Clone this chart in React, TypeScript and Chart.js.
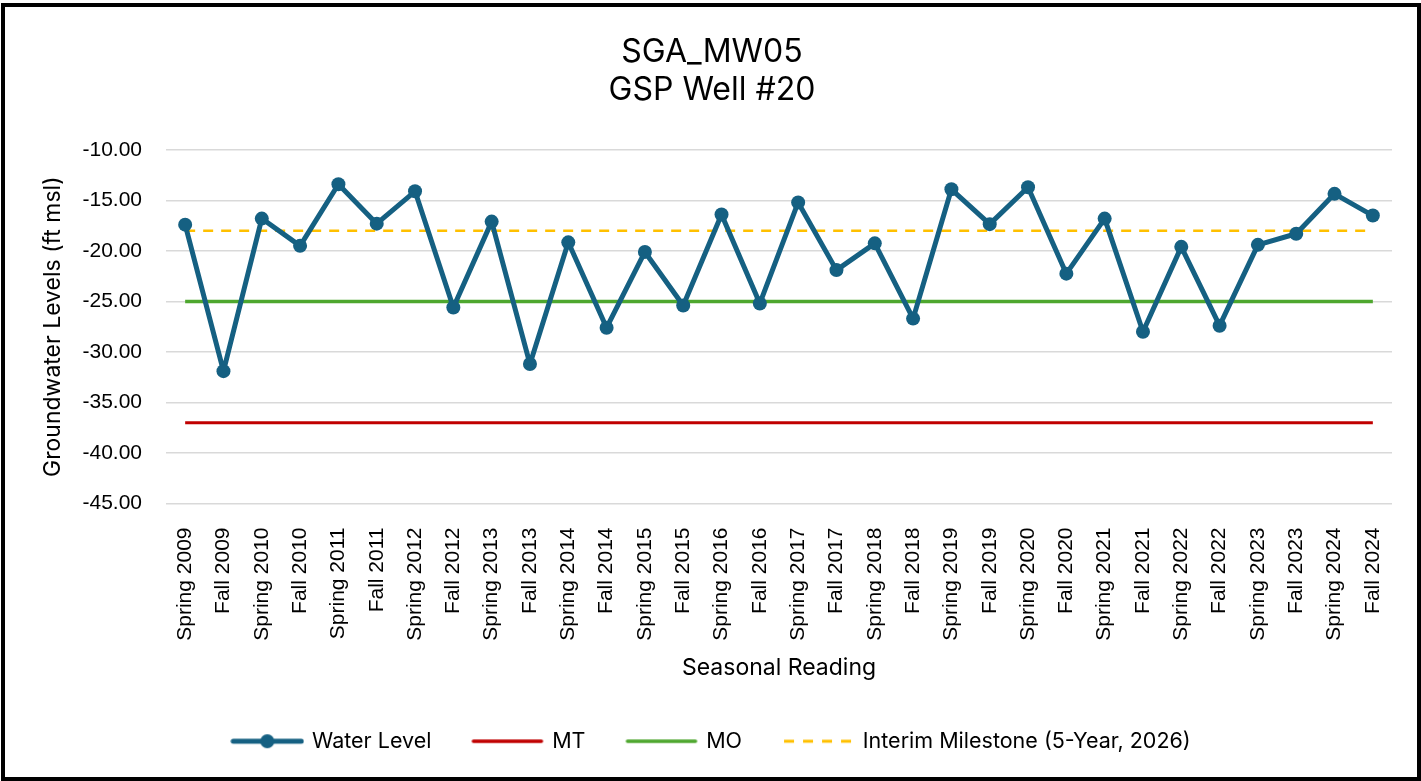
import React, { useEffect, useRef } from "react";
import { Chart, registerables } from "chart.js";

Chart.register(...registerables);

const categories = [
  "Spring 2009", "Fall 2009", "Spring 2010", "Fall 2010", "Spring 2011", "Fall 2011",
  "Spring 2012", "Fall 2012", "Spring 2013", "Fall 2013", "Spring 2014", "Fall 2014",
  "Spring 2015", "Fall 2015", "Spring 2016", "Fall 2016", "Spring 2017", "Fall 2017",
  "Spring 2018", "Fall 2018", "Spring 2019", "Fall 2019", "Spring 2020", "Fall 2020",
  "Spring 2021", "Fall 2021", "Spring 2022", "Fall 2022", "Spring 2023", "Fall 2023",
  "Spring 2024", "Fall 2024",
];

const waterLevel = [
  -17.4, -31.9, -16.8, -19.5, -13.4, -17.3, -14.1, -25.6, -17.1, -31.2, -19.15, -27.6,
  -20.1, -25.4, -16.4, -25.2, -15.2, -21.9, -19.25, -26.7, -13.9, -17.35, -13.7, -22.25,
  -16.8, -28.0, -19.6, -27.4, -19.4, -18.3, -14.35, -16.5,
];

const MT_VALUE = -37;
const MO_VALUE = -25;
const INTERIM_VALUE = -18;

const mtSeries = categories.map(() => MT_VALUE);
const moSeries = categories.map(() => MO_VALUE);
const interimSeries = categories.map(() => INTERIM_VALUE);

const titleLines = ["SGA_MW05", "GSP Well #20"];
const yTickMin = -45;
const yTickMax = -10;
const yTickStep = 5;

const BLUE = "#156082";
const RED = "#c00000";
const GREEN = "#4ea72e";
const GOLD = "#ffc000";

function makeIcon(kind: string): HTMLCanvasElement {
  const c = document.createElement("canvas");
  c.width = 74;
  c.height = 16;
  const ctx = c.getContext("2d")!;
  ctx.lineCap = "butt";
  if (kind === "water") {
    ctx.strokeStyle = BLUE;
    ctx.lineWidth = 5;
    ctx.lineCap = "round";
    ctx.beginPath();
    ctx.moveTo(3, 8);
    ctx.lineTo(71, 8);
    ctx.stroke();
    ctx.fillStyle = BLUE;
    ctx.beginPath();
    ctx.arc(37, 8, 7, 0, Math.PI * 2);
    ctx.fill();
  } else if (kind === "mt" || kind === "mo") {
    ctx.strokeStyle = kind === "mt" ? RED : GREEN;
    ctx.lineWidth = 3.5;
    ctx.lineCap = "round";
    ctx.beginPath();
    ctx.moveTo(3, 8);
    ctx.lineTo(71, 8);
    ctx.stroke();
  } else {
    ctx.strokeStyle = GOLD;
    ctx.lineWidth = 3;
    ctx.setLineDash([10, 9]);
    ctx.beginPath();
    ctx.moveTo(3, 8);
    ctx.lineTo(73, 8);
    ctx.stroke();
  }
  return c;
}

const TEXT_FONT = "Inter, 'Noto Sans', sans-serif";
const TICK_FONT = "'Liberation Sans', Arial, sans-serif";

export default function App() {
  const canvasRef = useRef<HTMLCanvasElement | null>(null);

  useEffect(() => {
    if (!canvasRef.current) return;
    const icons = [makeIcon("water"), makeIcon("mt"), makeIcon("mo"), makeIcon("interim")];
    const chart = new Chart(canvasRef.current, {
      type: "line",
      data: {
        labels: categories,
        datasets: [
          {
            label: "Water Level",
            data: waterLevel,
            borderColor: BLUE,
            backgroundColor: BLUE,
            borderWidth: 5,
            pointRadius: 7,
            pointBorderWidth: 0,
            pointBackgroundColor: BLUE,
            borderJoinStyle: "round",
            tension: 0,
          },
          {
            label: "MT",
            data: mtSeries,
            borderColor: RED,
            backgroundColor: RED,
            borderWidth: 3,
            pointRadius: 0,
          },
          {
            label: "MO",
            data: moSeries,
            borderColor: GREEN,
            backgroundColor: GREEN,
            borderWidth: 3.5,
            pointRadius: 0,
          },
          {
            label: "Interim Milestone (5-Year, 2026)",
            data: interimSeries,
            borderColor: GOLD,
            backgroundColor: GOLD,
            borderWidth: 2.5,
            borderDash: [10, 8],
            pointRadius: 0,
          },
        ],
      },
      options: {
        responsive: false,
        animation: false,
        devicePixelRatio: 1,
        layout: { padding: { left: 27, right: 25, top: 0, bottom: 15 } },
        plugins: {
          tooltip: { enabled: false },
          title: {
            display: true,
            text: titleLines,
            color: "#000",
            font: { family: TEXT_FONT, size: 32, weight: "normal", lineHeight: 1.17 },
            padding: { top: 27, bottom: 41 },
          },
          legend: {
            position: "bottom",
            labels: {
              usePointStyle: true,
              pointStyleWidth: 68,
              boxHeight: 16,
              padding: 42,
              color: "#000",
              font: { family: TEXT_FONT, size: 21.5 },
              generateLabels: (ch: any) =>
                ch.data.datasets.map((ds: any, i: number) => ({
                  text: ds.label,
                  pointStyle: icons[i],
                  fillStyle: "transparent",
                  strokeStyle: "transparent",
                  lineWidth: 0,
                  hidden: false,
                  datasetIndex: i,
                  fontColor: "#000",
                })),
            },
          },
        },
        scales: {
          x: {
            offset: true,
            grid: { display: false },
            border: { display: false },
            ticks: {
              autoSkip: false,
              maxRotation: 90,
              minRotation: 90,
              padding: 16,
              color: "#000",
              font: { family: TICK_FONT, size: 21 },
            },
            title: {
              display: true,
              text: "Seasonal Reading",
              color: "#000",
              font: { family: TEXT_FONT, size: 23 },
              padding: { top: 0, bottom: 7 },
            },
            afterFit: (s: any) => {
              s.height = 185;
            },
          },
          y: {
            min: yTickMin,
            max: yTickMax,
            border: { display: false },
            grid: { color: "#d9d9d9", lineWidth: 1.5, drawTicks: false },
            ticks: {
              stepSize: yTickStep,
              padding: 24,
              color: "#000",
              font: { family: TICK_FONT, size: 21 },
              callback: (v: any) => Number(v).toFixed(2),
            },
            title: {
              display: true,
              text: "Groundwater Levels (ft msl)",
              color: "#000",
              font: { family: TEXT_FONT, size: 23 },
              padding: { top: 7, bottom: 0 },
            },
            afterFit: (s: any) => {
              s.width = 134;
            },
          },
        },
      },
    } as any);
    return () => chart.destroy();
  }, []);

  return (
    <div
      style={{
        position: "fixed",
        left: 1,
        top: 3,
        width: 1420,
        height: 778,
        border: "4px solid #000",
        boxSizing: "border-box",
        background: "#fff",
      }}
    >
      <canvas ref={canvasRef} width={1412} height={770} style={{ width: 1412, height: 770, display: "block" }} />
    </div>
  );
}
